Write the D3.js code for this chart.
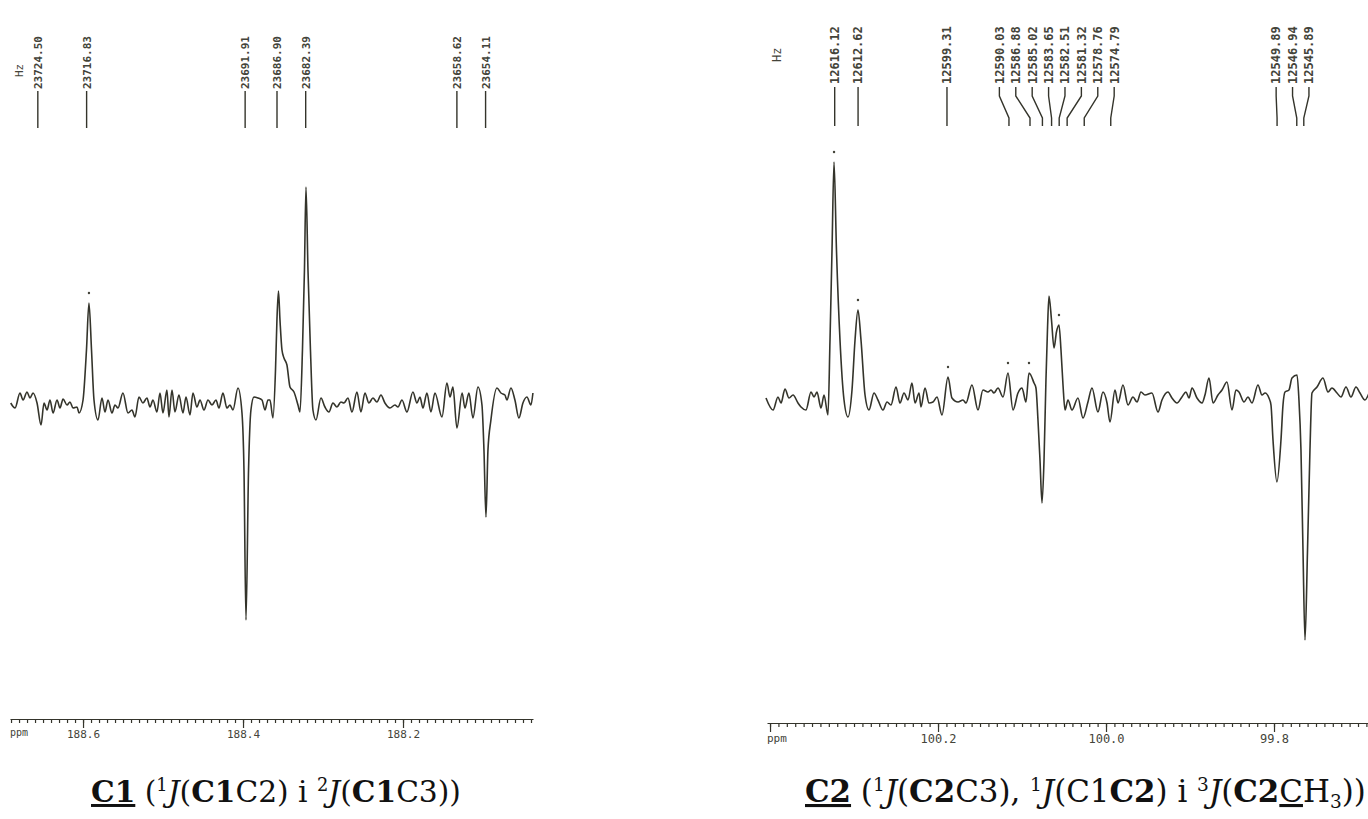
<!DOCTYPE html>
<html><head><meta charset="utf-8">
<script src="https://cdn.jsdelivr.net/npm/d3@7"></script>
<style>body{margin:0;background:#fff}svg{display:block}</style>
</head><body>
<svg id="c" width="1368" height="819"></svg>
<script>
// ---------- DATA ----------
const SF = 125.755; // spectrometer frequency, MHz (Hz -> ppm)
const leftHz = [23724.50, 23716.83, 23691.91, 23686.90, 23682.39, 23658.62, 23654.11];
const rightHz = [12616.12, 12612.62, 12599.31, 12590.03, 12586.88, 12585.02, 12583.65,
  12582.51, 12581.32, 12578.76, 12574.79, 12549.89, 12546.94, 12545.89];
const leftMajor = [188.6, 188.4, 188.2];
const rightMajor = [100.4, 100.2, 100.0, 99.8];
// marked (picked) peaks: [ppm, intensity]
const leftMarks = [[188.5926, 97]];
const rightMarks = [[100.3238, 236], [100.2953, 88], [100.1881, 21], [100.1167, 25], [100.0917, 25], [100.0560, 73]];
// spectrum traces: [ppm, intensity]
const leftTrace = [
[188.6904,-3],[188.6850,-8],[188.6788,7],[188.6750,0],[188.6700,8],[188.6663,2],[188.6625,7],[188.6575,-3],
[188.6525,-25],[188.6488,-3],[188.6450,-10],[188.6413,0],[188.6375,-13],[188.6325,0],[188.6288,-8],[188.6250,1],
[188.6200,-5],[188.6163,-2],[188.6125,-8],[188.6075,-7],[188.6050,-13],[188.6000,0],[188.5957,50],[188.5926,97],
[188.5894,50],[188.5863,0],[188.5813,-20],[188.5763,2],[188.5726,-12],[188.5688,0],[188.5638,-13],[188.5601,-5],
[188.5563,-8],[188.5501,7],[188.5438,-13],[188.5388,-10],[188.5351,-17],[188.5301,3],[188.5251,-3],[188.5201,2],
[188.5163,-7],[188.5126,0],[188.5076,-12],[188.5038,7],[188.5001,-13],[188.4951,10],[188.4926,-17],[188.4888,10],
[188.4851,-12],[188.4801,5],[188.4751,-13],[188.4713,3],[188.4663,-15],[188.4626,7],[188.4576,-7],[188.4538,0],
[188.4488,-10],[188.4438,0],[188.4388,-5],[188.4338,0],[188.4301,-8],[188.4251,7],[188.4201,-8],[188.4163,-5],
[188.4126,-10],[188.4063,12],[188.4013,-13],[188.3988,-70],[188.3963,-220],[188.3931,-70],[188.3901,-10],
[188.3863,3],[188.3813,2],[188.3763,0],[188.3726,-10],[188.3688,0],[188.3663,0],[188.3626,-18],[188.3594,30],
[188.3576,80],[188.3557,109],[188.3538,80],[188.3513,50],[188.3488,42],[188.3451,35],[188.3413,13],[188.3363,8],
[188.3313,-5],[188.3288,-12],[188.3257,50],[188.3232,130],[188.3213,213],[188.3188,130],[188.3157,50],
[188.3126,-10],[188.3088,-20],[188.3026,2],[188.2976,-7],[188.2926,-12],[188.2876,-3],[188.2826,-7],[188.2776,-2],
[188.2738,-3],[188.2688,2],[188.2638,-12],[188.2576,8],[188.2526,-12],[188.2476,7],[188.2426,-3],[188.2376,2],
[188.2326,-2],[188.2276,5],[188.2226,-3],[188.2163,-8],[188.2101,-5],[188.2063,-7],[188.2013,0],[188.1951,-12],
[188.1876,8],[188.1826,-3],[188.1788,3],[188.1751,-8],[188.1701,7],[188.1651,-12],[188.1601,7],[188.1513,-17],
[188.1451,17],[188.1413,3],[188.1376,13],[188.1326,-28],[188.1261,7],[188.1226,-8],[188.1176,7],[188.1126,-18],
[188.1063,13],[188.1013,-5],[188.0988,-50],[188.0963,-117],[188.0938,-50],[188.0901,-20],[188.0826,12],
[188.0776,7],[188.0726,5],[188.0701,0],[188.0651,12],[188.0601,0],[188.0551,-18],[188.0501,-3],[188.0451,3],
[188.0401,-5],[188.0376,7]];
const rightTrace = [
[100.4048,0],[100.3964,-12],[100.3905,1],[100.3869,-5],[100.3822,9],[100.3774,0],[100.3726,3],[100.3667,-5],
[100.3631,-9],[100.3572,-12],[100.3512,6],[100.3476,1],[100.3441,6],[100.3393,-10],[100.3357,3],[100.3310,-17],
[100.3286,58],[100.3262,148],[100.3238,236],[100.3209,148],[100.3167,58],[100.3119,-2],[100.3072,-19],
[100.3024,8],[100.2988,58],[100.2953,88],[100.2917,58],[100.2869,3],[100.2822,-12],[100.2762,5],[100.2715,-2],
[100.2655,-12],[100.2607,-4],[100.2560,-7],[100.2500,11],[100.2453,-5],[100.2405,5],[100.2357,-2],[100.2310,15],
[100.2274,-5],[100.2226,5],[100.2203,-9],[100.2155,10],[100.2107,-5],[100.2060,-4],[100.2012,1],[100.1953,-17],
[100.1881,21],[100.1834,0],[100.1762,-4],[100.1703,-2],[100.1667,-5],[100.1596,13],[100.1524,-12],[100.1465,8],
[100.1405,6],[100.1369,8],[100.1334,5],[100.1286,10],[100.1226,1],[100.1167,25],[100.1107,-12],[100.1048,5],
[100.1000,10],[100.0953,-4],[100.0917,25],[100.0857,15],[100.0834,10],[100.0810,-22],[100.0786,-62],
[100.0762,-105],[100.0738,-62],[100.0715,18],[100.0697,68],[100.0679,102],[100.0649,78],[100.0619,50],
[100.0590,66],[100.0560,73],[100.0536,48],[100.0512,13],[100.0488,-12],[100.0453,-2],[100.0405,-12],
[100.0334,0],[100.0274,-20],[100.0215,-4],[100.0167,10],[100.0096,-14],[100.0036,6],[99.9988,-5],[99.9953,-24],
[99.9893,8],[99.9857,-5],[99.9798,13],[99.9738,-7],[99.9679,1],[99.9631,-4],[99.9584,6],[99.9536,3],[99.9453,5],
[99.9381,-14],[99.9334,-2],[99.9262,6],[99.9215,0],[99.9155,-5],[99.9096,1],[99.9048,6],[99.9012,0],[99.8976,10],
[99.8917,0],[99.8857,-5],[99.8822,3],[99.8774,20],[99.8726,-5],[99.8667,3],[99.8619,8],[99.8560,16],[99.8500,-12],
[99.8453,8],[99.8417,6],[99.8357,-4],[99.8310,1],[99.8262,-5],[99.8191,13],[99.8143,3],[99.8107,5],[99.8060,0],
[99.8036,-7],[99.8012,-42],[99.7965,-84],[99.7917,-42],[99.7893,-7],[99.7869,6],[99.7822,8],[99.7786,20],
[99.7726,23],[99.7703,-2],[99.7679,-52],[99.7655,-152],[99.7631,-242],[99.7601,-152],[99.7572,-52],[99.7548,5],
[99.7488,11],[99.7417,20],[99.7357,6],[99.7310,10],[99.7250,5],[99.7203,1],[99.7143,11],[99.7084,1],[99.7024,11],
[99.6976,5],[99.6917,-2],[99.6869,5]];

// ---------- DRAW ----------
const svg = d3.select('#c');
const INK = '#34342b', TXT = '#44443a';
const MONO = '"DejaVu Sans Mono", monospace';

function spread(xs, gap) {
  let cl = xs.map((x, i) => ({idx: [i], xs: [x]}));
  const place = c => { const m = d3.mean(c.xs); c.start = m - (c.xs.length - 1) * gap / 2; c.end = c.start + (c.xs.length - 1) * gap; };
  cl.forEach(place);
  let merged = true;
  while (merged) {
    merged = false;
    for (let i = 1; i < cl.length; i++) {
      if (cl[i].start < cl[i - 1].end + gap) {
        cl[i - 1].idx = cl[i - 1].idx.concat(cl[i].idx);
        cl[i - 1].xs = cl[i - 1].xs.concat(cl[i].xs);
        place(cl[i - 1]); cl.splice(i, 1); merged = true; break;
      }
    }
  }
  const out = [];
  cl.forEach(c => c.idx.forEach((k, j) => out[k] = c.start + j * gap));
  return out;
}

function panel(o) {
  const x = d3.scaleLinear().domain(o.dom).range(o.rng);
  const y = d3.scaleLinear().domain([-250, 250]).range([o.base + 250, o.base - 250]);
  const g = svg.append('g');
  // spectrum
  g.append('path').datum(o.trace)
    .attr('d', d3.line().x(d => x(d[0])).y(d => y(d[1])).curve(d3.curveMonotoneX))
    .attr('fill', 'none').attr('stroke', INK).attr('stroke-width', 1.6).attr('stroke-linejoin', 'round');
  // peak-pick dots
  g.selectAll('circle.mk').data(o.marks).join('circle')
    .attr('cx', d => x(d[0])).attr('cy', d => y(d[1]) - 10).attr('r', 1.2).attr('fill', TXT);
  // axis
  const ax = g.append('g').attr('transform', `translate(0,${o.axY})`);
  const minor = d3.range(Math.ceil(o.dom[1] * 100), Math.floor(o.dom[0] * 100) + 1).map(v => v / 100);
  ax.append('g').call(d3.axisBottom(x).tickValues(minor).tickSize(4).tickSizeOuter(0).tickFormat(''))
    .call(s => s.selectAll('line,path').attr('stroke', INK).attr('stroke-width', 1.2));
  ax.append('g').call(d3.axisBottom(x).tickValues(o.major).tickSize(9).tickPadding(2)
      .tickFormat(d => (x(d) < o.rng[0] + 20 ? '' : d3.format('.1f')(d))))
    .call(s => s.select('.domain').remove())
    .call(s => s.selectAll('line').attr('stroke', INK).attr('stroke-width', 1.2))
    .call(s => s.selectAll('text').attr('font-family', MONO).attr('font-size', o.fs).attr('fill', TXT));
  ax.append('text').attr('x', o.rng[0]).attr('y', o.fs * 1.55).text('ppm')
    .attr('font-family', MONO).attr('font-size', o.fs - 1).attr('fill', TXT);
  // peak labels (Hz)
  const px = o.hz.map(h => x(h / SF));
  const lx = spread(px, o.gap);
  const L = o.lab;
  const lg = g.append('g');
  o.hz.forEach((h, i) => {
    const pts = lx[i] === px[i] ? [[px[i], L.lineTop], [px[i], L.lineBot]]
      : [[lx[i], L.lineTop], [lx[i], L.bendA], [px[i], L.bendB], [px[i], L.lineBot]];
    lg.append('path').attr('d', d3.line()(pts)).attr('fill', 'none').attr('stroke', INK).attr('stroke-width', 1.4);
    lg.append('text').attr('transform', `translate(${lx[i]},${L.textBot}) rotate(-90)`)
      .attr('dy', '0.36em').text(h.toFixed(2))
      .attr('font-family', MONO).attr('font-weight', 'bold').attr('font-size', L.fs).attr('fill', TXT);
  });
  lg.append('text').attr('transform', `translate(${L.hzX},${L.hzY}) rotate(-90)`)
    .attr('dy', '0.36em').text('Hz').attr('font-family', MONO).attr('font-size', L.fs).attr('fill', TXT);
}

panel({dom: [188.6913, 188.0375], rng: [10, 533], base: 400, axY: 719, major: leftMajor, fs: 11,
  trace: leftTrace, marks: leftMarks, hz: leftHz, gap: 14,
  lab: {textBot: 89, lineTop: 91, lineBot: 128, bendA: 98, bendB: 120, fs: 11, hzX: 19, hzY: 77}});
panel({dom: [100.4036, 99.6881], rng: [767, 1368], base: 398, axY: 723, major: rightMajor, fs: 12,
  trace: rightTrace, marks: rightMarks, hz: rightHz, gap: 16.4,
  lab: {textBot: 84, lineTop: 87, lineBot: 126, bendA: 96, bendB: 118, fs: 12, hzX: 777, hzY: 62}});

// ---------- CAPTIONS ----------
function caption(parts, x0, yb, targetW) {
  const t = svg.append('text').attr('x', x0).attr('y', yb)
    .attr('font-family', '"DejaVu Serif", "Liberation Serif", serif').attr('font-size', 30).attr('fill', '#111');
  parts.forEach(p => {
    const s = t.append('tspan').text(p.t);
    if (p.b) s.attr('font-weight', 'bold');
    if (p.i) s.attr('font-style', 'italic');
    if (p.u) s.attr('text-decoration', 'underline');
    if (p.sup) s.attr('font-size', '60%').attr('dy', '-0.62em');
    if (p.sub) s.attr('font-size', '60%').attr('dy', '0.35em');
    if (p.back) s.attr('dy', p.back);
  });
  const w = t.node().getComputedTextLength();
  t.attr('font-size', 30 * targetW / w);
}
const sup = (s) => ({t: s, sup: true});
caption([
  {t: 'C1', b: true, u: true}, {t: ' ('}, sup('1'), {t: 'J', i: true, back: '0.372em'}, {t: '('}, {t: 'C1', b: true},
  {t: 'C2) i '}, sup('2'), {t: 'J', i: true, back: '0.372em'}, {t: '('}, {t: 'C1', b: true}, {t: 'C3))'}
], 91, 802, 370);
caption([
  {t: 'C2', b: true, u: true}, {t: ' ('}, sup('1'), {t: 'J', i: true, back: '0.372em'}, {t: '('}, {t: 'C2', b: true},
  {t: 'C3), '}, sup('1'), {t: 'J', i: true, back: '0.372em'}, {t: '(C1'}, {t: 'C2', b: true}, {t: ') i '},
  sup('3'), {t: 'J', i: true, back: '0.372em'}, {t: '('}, {t: 'C2', b: true}, {t: 'C', u: true}, {t: 'H'},
  {t: '3', sub: true}, {t: '))', back: '-0.21em'}
], 805, 802, 561);
</script></body></html>
